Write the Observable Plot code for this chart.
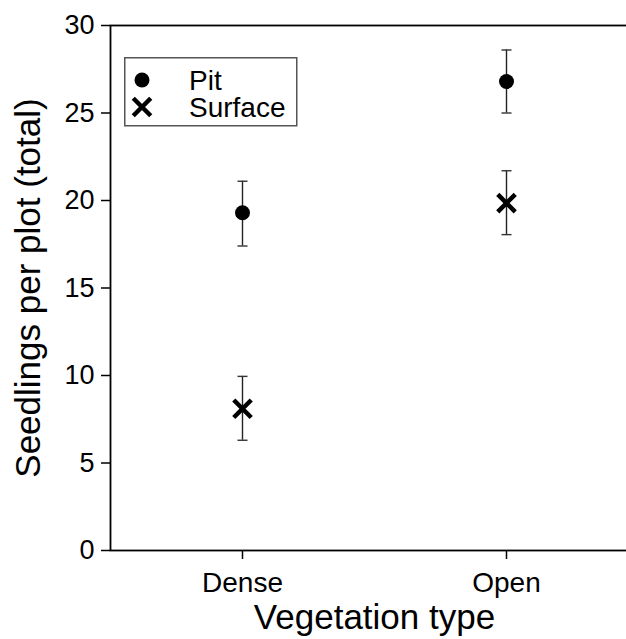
<!DOCTYPE html>
<html>
<head>
<meta charset="utf-8">
<script src="https://cdn.jsdelivr.net/npm/d3@7"></script>
<script src="https://cdn.jsdelivr.net/npm/@observablehq/plot@0.6"></script>
<style>
  html, body { margin: 0; padding: 0; background: #fff; overflow: hidden; }
  #wrap { position: relative; width: 626px; height: 639px; overflow: hidden; font-family: "Liberation Sans", Arial, sans-serif; }
  #wrap > svg.plot { max-width: none !important; }
  #legend { position: absolute; left: 124px; top: 57px; }
</style>
</head>
<body>
<div id="wrap"></div>
<script>
// ---- data ----
const categories = ["Dense", "Open"];
const seriesNames = ["Pit", "Surface"];
const pitMean = [19.3, 26.8];
const pitLow = [17.4, 25.0];
const pitHigh = [21.1, 28.6];
const surfaceMean = [8.1, 19.85];
const surfaceLow = [6.3, 18.05];
const surfaceHigh = [9.95, 21.7];
const yTicks = [0, 5, 10, 15, 20, 25, 30];
const xTitle = "Vegetation type";
const yTitle = "Seedlings per plot (total)";

const rows = [];
categories.forEach((c, i) => {
  rows.push({veg: c, series: "Pit", mean: pitMean[i], lo: pitLow[i], hi: pitHigh[i]});
  rows.push({veg: c, series: "Surface", mean: surfaceMean[i], lo: surfaceLow[i], hi: surfaceHigh[i]});
});
const pit = rows.filter(d => d.series === "Pit");
const surf = rows.filter(d => d.series === "Surface");

// horizontal cap symbol for error bars
const capSymbol = {
  draw(context, size) {
    const w = Math.sqrt(size / Math.PI);
    context.moveTo(-w, 0);
    context.lineTo(w, 0);
  }
};

const font = "'Liberation Sans', Arial, sans-serif";
const chart = Plot.plot({
  width: 638,
  height: 639,
  marginLeft: 110,
  marginRight: 0,
  marginTop: 25,
  marginBottom: 89,
  style: {fontFamily: font, color: "#000", background: "#fff", overflow: "visible", maxWidth: "none"},
  x: {domain: categories, type: "point", padding: 0.5},
  y: {domain: [0, 30]},
  marks: [
    Plot.frame({stroke: "#000", strokeWidth: 1.8}),
    Plot.axisY({ticks: yTicks, tickSize: 9, tickPadding: 7, fontSize: 27, label: null, strokeWidth: 1.5, color: "#000"}),
    Plot.axisX({tickSize: 9, tickPadding: 13, fontSize: 28, label: null, strokeWidth: 1.5, color: "#000"}),
    Plot.ruleX(rows, {x: "veg", y1: "lo", y2: "hi", stroke: "#222", strokeWidth: 1.4}),
    Plot.dot(rows, {x: "veg", y: "lo", symbol: capSymbol, r: 5, fill: "none", stroke: "#333", strokeWidth: 1.4}),
    Plot.dot(rows, {x: "veg", y: "hi", symbol: capSymbol, r: 5, fill: "none", stroke: "#333", strokeWidth: 1.4}),
    Plot.dot(pit, {x: "veg", y: "mean", r: 7.5, fill: "#000", stroke: "none"}),
    Plot.dot(surf, {x: "veg", y: "mean", symbol: "times", r: 8, stroke: "#000", strokeWidth: 4.5}),
    Plot.text([xTitle], {text: d => d, frameAnchor: "bottom", textAnchor: "middle", lineAnchor: "bottom", dy: 78, fontSize: 35, fill: "#000"}),
    Plot.text([yTitle], {text: d => d, frameAnchor: "left", textAnchor: "middle", lineAnchor: "middle", rotate: -90, dx: -82, fontSize: 35, fill: "#000"})
  ]
});
chart.style.maxWidth = "none";
const wrap = document.getElementById("wrap");
wrap.appendChild(chart);

// ---- legend ----
const legend = d3.select(wrap).append("svg")
  .attr("id", "legend")
  .attr("width", 175).attr("height", 71);
legend.append("rect").attr("x", 0.75).attr("y", 0.75).attr("width", 172).attr("height", 68)
  .attr("fill", "#fff").attr("stroke", "#555").attr("stroke-width", 1.5);
const items = legend.selectAll("g").data(seriesNames).join("g")
  .attr("transform", (d, i) => `translate(0, ${23 + i * 27})`);
items.filter(d => d === "Pit").append("circle").attr("cx", 18).attr("cy", 0).attr("r", 7.5).attr("fill", "#000");
items.filter(d => d === "Surface").append("path").attr("transform", "translate(18,0)")
  .attr("d", d3.symbol(d3.symbolTimes, Math.PI * 8 * 8)()).attr("fill", "none").attr("stroke", "#000").attr("stroke-width", 4.5);
items.append("text").attr("x", 65).attr("y", 0).attr("dy", "0.35em")
  .attr("font-size", 28).attr("font-family", font).attr("fill", "#000").text(d => d);
</script>
</body>
</html>
